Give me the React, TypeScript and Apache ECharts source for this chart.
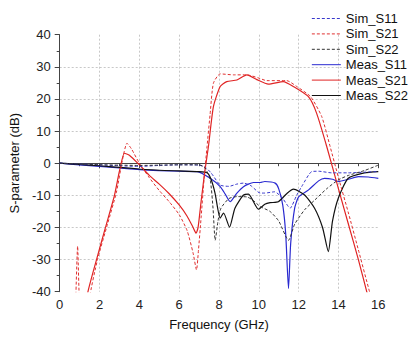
import React, { useEffect, useRef } from "react";
import * as echarts from "echarts";

const xTicks = [0, 2, 4, 6, 8, 10, 12, 14, 16];
const yTicks = [-40, -30, -20, -10, 0, 10, 20, 30, 40];

const seriesNames = ["Sim_S11", "Sim_S21", "Sim_S22", "Meas_S11", "Meas_S21", "Meas_S22"];

const simS11: [number, number][] = [
  [0, 0], [1, -0.2], [2, -0.5], [3, -0.8], [4, -1], [5, -0.7], [6, -0.5], [7, -0.6],
  [7.3, -1.2], [7.6, -3], [8.06, -6.8], [8.5, -7.2], [8.9, -6.5], [9.23, -6.2], [9.6, -7],
  [10.07, -9.3], [10.3, -9.3], [10.8, -8.9], [11.2, -11], [11.57, -14], [11.9, -10],
  [12.15, -7.3], [12.66, -2.6], [13.0, -2.5], [13.66, -3], [14.5, -3], [15.3, -2.8], [16, -2.6],
];

const simS21: [number, number][] = [
  [0.8, -44], [0.9, -25.8], [1.0, -44], [1.3, -60], [1.5, -42], [1.9, -30], [2.4, -19],
  [2.85, -9], [3.15, 1], [3.38, 6.2], [3.6, 4.5], [4.0, 0], [4.5, -4.5], [5.0, -8.5],
  [5.5, -12], [6.0, -16], [6.4, -21], [6.7, -28], [6.87, -33.2], [6.97, -27], [7.1, -17],
  [7.25, -5], [7.4, 5.2], [7.55, 15], [7.72, 24.9], [8.06, 27.8], [8.73, 27.5], [9.4, 27.5],
  [10.0, 26.5], [10.4, 25.7], [11.4, 25.7], [11.9, 23.9], [12.6, 20.7], [13.16, 14.5],
  [13.58, 5.2], [14.0, -4.5], [14.5, -15.5], [15.0, -27], [15.56, -40], [15.7, -43],
];

const simS22: [number, number][] = [
  [0, 0], [1, -0.2], [2, -0.5], [3, -0.6], [4, -0.7], [5, -0.6], [6, -0.5], [7, -0.5],
  [7.3, -1.5], [7.56, -5.2], [7.7, -14], [7.81, -24], [7.95, -18], [8.1, -14], [8.5, -11],
  [8.9, -10.4], [9.4, -10.5], [9.7, -11.5], [10.07, -13.5], [10.56, -15], [11.0, -18],
  [11.49, -24], [11.8, -19], [12.3, -14.5], [12.82, -11.4], [13.4, -8], [13.99, -5.2],
  [14.5, -3.8], [15.3, -2.3], [16, -0.6],
];

const measS11: [number, number][] = [
  [0, 0], [1, -0.5], [2, -1], [3, -1.5], [4, -2], [5, -2.3], [6, -2.5], [6.9, -2.6],
  [7.56, -4.7], [8.06, -7.3], [8.3, -9.5], [8.56, -12], [8.9, -9.3], [9.23, -7.3],
  [9.73, -6], [10.07, -6], [10.3, -5.7], [10.82, -6.2], [11.0, -8], [11.2, -13],
  [11.35, -22], [11.49, -39], [11.6, -25], [11.8, -14], [12.0, -10.5], [12.5, -8.3],
  [13.0, -5.5], [13.3, -4.7], [13.7, -5], [14.0, -5.7], [14.5, -5], [15.0, -4.2],
  [15.5, -4.3], [16, -4.7],
];

const measS21: [number, number][] = [
  [1.3, -46], [1.42, -40], [1.85, -30], [2.3, -20], [2.75, -10], [3.0, -2.5], [3.25, 3.1],
  [3.5, 2.5], [4.0, -0.5], [4.5, -3.8], [5.0, -6.5], [5.5, -9.5], [6.0, -13], [6.4, -16.5],
  [6.7, -20], [6.85, -21.8], [6.95, -20], [7.1, -12], [7.3, -2], [7.47, 5.2], [7.72, 17.6],
  [8.06, 23.9], [8.39, 25.4], [8.9, 25.9], [9.4, 27.5], [9.9, 26], [10.48, 24.6],
  [11.23, 25.4], [11.73, 23.9], [12.49, 20.7], [12.9, 15.6], [13.41, 5.2], [14.0, -8],
  [14.5, -19], [15.0, -30], [15.42, -40], [15.6, -44],
];

const measS22: [number, number][] = [
  [0, 0], [1, -0.4], [2, -0.8], [3, -1.3], [4, -1.8], [5, -2.2], [6, -2.4], [7, -2.6],
  [7.4, -3], [7.6, -5], [7.8, -9.3], [8.06, -17.1], [8.23, -15.5], [8.53, -19.9],
  [8.8, -14], [9.23, -9.9], [9.48, -9.6], [9.98, -14.3], [10.3, -12.8], [10.57, -12.3],
  [10.98, -12], [11.4, -9.5], [11.74, -8.1], [12.3, -9.9], [12.8, -14], [13.2, -20],
  [13.49, -27.5], [13.7, -18], [13.99, -10.9], [14.49, -4.7], [15.3, -3], [16, -2.6],
];

const seriesData = [simS11, simS21, simS22, measS11, measS21, measS22];
const seriesColors = ["#3838cc", "#e03030", "#333333", "#2a2ad0", "#e02424", "#111111"];
const dashed = [true, true, true, false, false, false];

export default function App() {
  const ref = useRef<HTMLDivElement>(null);
  useEffect(() => {
    if (!ref.current) return;
    const chart = echarts.init(ref.current, null, { renderer: "svg" });
    const font = "Arial, 'Liberation Sans', sans-serif";
    chart.setOption({
      animation: false,
      backgroundColor: "#ffffff",
      textStyle: { fontFamily: font },
      grid: { left: 59.3, right: 35.7, top: 34.7, bottom: 45.3 },
      legend: {
        orient: "vertical",
        right: 1,
        top: 7,
        itemWidth: 29,
        itemHeight: 14,
        itemGap: 2.4,
        data: seriesNames,
        itemStyle: { opacity: 0 },
        lineStyle: { width: 1 },
        textStyle: { fontSize: 13, color: "#111", fontFamily: font },
      },
      xAxis: {
        type: "value",
        min: xTicks[0],
        max: xTicks[xTicks.length - 1],
        interval: 2,
        name: "Frequency (GHz)",
        nameLocation: "middle",
        nameGap: 26,
        nameTextStyle: { fontSize: 13, color: "#111", fontFamily: font },
        axisLine: { lineStyle: { color: "#444", width: 1 } },
        axisTick: { show: true, inside: false, length: 5, lineStyle: { color: "#444" } },
        minorTick: { show: true, splitNumber: 2, length: 3, lineStyle: { color: "#444" } },
        axisLabel: { fontSize: 13, color: "#222", margin: 6, fontFamily: font },
        splitLine: {
          show: true,
          showMinLine: false,
          showMaxLine: false,
          lineStyle: { color: "#c8c8c8", type: [2, 2], width: 1 },
        },
      },
      yAxis: {
        type: "value",
        min: yTicks[0],
        max: yTicks[yTicks.length - 1],
        interval: 10,
        name: "S-parameter (dB)",
        nameLocation: "middle",
        nameGap: 34,
        nameRotate: 90,
        nameTextStyle: { fontSize: 13, color: "#111", fontFamily: font },
        axisLine: { show: true, lineStyle: { color: "#444", width: 1 } },
        axisTick: { show: true, inside: false, length: 5, lineStyle: { color: "#444" } },
        minorTick: { show: true, splitNumber: 2, length: 3, lineStyle: { color: "#444" } },
        axisLabel: { fontSize: 13, color: "#222", margin: 9, fontFamily: font },
        splitLine: {
          show: true,
          showMinLine: false,
          showMaxLine: false,
          lineStyle: { color: "#c8c8c8", type: [2, 2], width: 1 },
        },
      },
      series: seriesNames.map((name, i) => ({
        name,
        type: "line",
        data: seriesData[i],
        symbol: "none",
        smooth: 0.2,
        clip: true,
        color: seriesColors[i],
        lineStyle: {
          color: seriesColors[i],
          width: dashed[i] ? 1 : 1.2,
          type: dashed[i] ? [3, 2] : "solid",
        },
        z: dashed[i] ? 3 : 2,
      })),
    });
    return () => chart.dispose();
  }, []);
  return (
    <div
      ref={ref}
      style={{ position: "fixed", left: 0, top: 0, width: 414, height: 337 }}
    />
  );
}
